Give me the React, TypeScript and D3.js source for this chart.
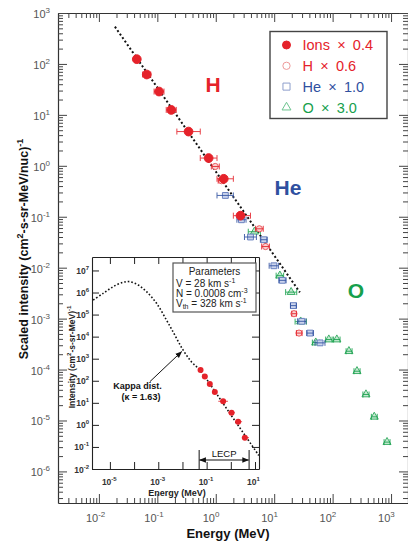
import React, { useEffect, useRef } from 'react';
import * as d3 from 'd3';

const W = 408;
const H = 544;

// main panel: scaled intensities as plotted (energy bins in MeV)
const ionE = [0.0445, 0.066, 0.107, 0.173, 0.342, 0.755, 1.37, 2.65];
const ionELo = [0.041, 0.056, 0.088, 0.142, 0.216, 0.543, 1.05, 2.0];
const ionEHi = [0.048, 0.077, 0.13, 0.211, 0.543, 1.05, 2.0, 3.93];
const ionI = [124, 62, 28.7, 12.5, 4.7, 1.42, 0.556, 0.105];

const hE = [0.98, 1.25, 5.57, 7.11, 21.8, 26.6];
const hELo = [0.84, 1.1, 4.8, 6.1, 20, 24];
const hEHi = [1.15, 1.4, 6.5, 8.3, 24, 30];
const hI = [0.97, 0.51, 0.058, 0.026, 0.00125, 0.00052];

const heE = [1.46, 2.75, 3.93, 6.65, 9.88, 13.8, 21.3, 29.6, 41, 61];
const heELo = [1.05, 2.3, 3.1, 5.8, 8.2, 12, 19, 25, 36, 50];
const heEHi = [2.0, 3.3, 4.96, 7.6, 11.8, 16, 24, 35, 47, 74];
const heI = [0.262, 0.0873, 0.04, 0.0354, 0.0109, 0.00564, 0.0018, 0.000885, 0.00052, 0.000334];

const oE = [4.6, 12.5, 19.5, 28.4, 51.4, 86, 118, 190, 261, 372, 516, 853];
const oELo = [3.6, 10.8, 15.7, 22.8, 45, 76, 104, 170, 232, 330, 460, 760];
const oEHi = [5.8, 14.5, 24.3, 35.5, 60, 98, 134, 215, 295, 420, 580, 960];
const oI = [0.0508, 0.00697, 0.00331, 0.000873, 0.000338, 0.000388, 0.000388, 0.000229, 9.27e-5, 3.24e-5, 1.18e-5, 3.76e-6];

// dotted power-law guide in main panel
const fitE = [0.0188, 27.5];
const fitI = [539, 0.00328];

// inset: kappa distribution + unscaled ions
const kappaE = [2.04e-6, 5.28e-6, 1.37e-5, 3.55e-5, 6.7e-5, 1.48e-4, 3.29e-4, 8.5e-4, 2.2e-3, 4.85e-3, 0.0107, 0.0238, 0.0524, 0.91, 14.4];
const kappaI = [4.56e5, 9.2e5, 1.84e6, 2.91e6, 3.1e6, 2.19e6, 1.09e6, 3.23e5, 5.6e4, 1.17e4, 2430, 716, 300, 3.33, 0.041];
const insetIonE = [0.056, 0.084, 0.135, 0.218, 0.48, 1.07, 2.0, 3.8];
const ionScale = 0.4;
const lecpRange = [0.049, 5.7];

const legendNames = ['Ions', 'H', 'He', 'O'];
const legendFactors = ['0.4', '0.6', '1.0', '3.0'];

const FONT = '"Liberation Sans", Arial, Helvetica, sans-serif';
const RED = '#e5222a';
const BLUE = '#2f50a0';
const GREEN = '#16a04c';

const logMajors = (lo: number, hi: number) =>
  d3.range(Math.ceil(Math.log10(lo) - 1e-9), Math.floor(Math.log10(hi) + 1e-9) + 1);

const logMinors = (lo: number, hi: number) => {
  const out: number[] = [];
  for (let k = Math.floor(Math.log10(lo)); k <= Math.ceil(Math.log10(hi)); k++) {
    for (let m = 2; m <= 9; m++) {
      const v = m * 10 ** k;
      if (v >= lo && v <= hi) out.push(v);
    }
  }
  return out;
};

const App = () => {
  const svgRef = useRef<SVGSVGElement>(null);

  useEffect(() => {
    const svg = d3.select(svgRef.current).attr('width', W).attr('height', H).style('font-family', FONT);
    svg.selectAll('*').remove();

    const defs = svg.append('defs');
    defs.append('marker').attr('id', 'ah').attr('viewBox', '0 0 10 10')
      .attr('refX', 9).attr('refY', 5).attr('markerWidth', 7).attr('markerHeight', 7)
      .attr('orient', 'auto-start-reverse')
      .append('path').attr('d', 'M0,1L10,5L0,9z').attr('fill', '#111');
    defs.append('clipPath').attr('id', 'insetclip')
      .append('rect').attr('x', 92).attr('y', 257).attr('width', 167).attr('height', 212);

    // ---------- main panel ----------
    const x = d3.scaleLog().domain([10 ** -2.7, 10 ** 3.29]).range([58, 408]);
    const y = d3.scaleLog().domain([10 ** -6.62, 1e3]).range([503, 13]);
    const [x0, x1] = x.range();
    const [y0, y1] = y.range();

    const xMaj = logMajors(x.domain()[0], x.domain()[1]);
    const yMaj = logMajors(y.domain()[0], y.domain()[1]);

    const addAxis = (gen: any, tr: string, keepDomain: boolean) => {
      const g = svg.append('g').attr('transform', tr).call(gen);
      g.selectAll('.tick text').remove();
      g.selectAll('.tick line').attr('stroke', '#444');
      if (keepDomain) g.select('.domain').attr('stroke', '#333').attr('stroke-width', 1.2);
      else g.select('.domain').remove();
    };
    const maj = (a: any, vals: number[]) => a.tickValues(vals).tickSize(-9).tickSizeOuter(0).tickFormat(() => '');
    const mnr = (a: any, vals: number[]) => a.tickValues(vals).tickSize(-5).tickSizeOuter(0).tickFormat(() => '');
    const xMajV = xMaj.map(k => 10 ** k);
    const yMajV = yMaj.map(k => 10 ** k);
    const xMin = logMinors(x.domain()[0], x.domain()[1]);
    const yMin = logMinors(y.domain()[0], y.domain()[1]);

    addAxis(maj(d3.axisBottom(x), xMajV), `translate(0,${y0})`, true);
    addAxis(mnr(d3.axisBottom(x), xMin), `translate(0,${y0})`, false);
    addAxis(maj(d3.axisTop(x), xMajV), `translate(0,${y1})`, true);
    addAxis(mnr(d3.axisTop(x), xMin), `translate(0,${y1})`, false);
    addAxis(maj(d3.axisLeft(y), yMajV), `translate(${x0},0)`, true);
    addAxis(mnr(d3.axisLeft(y), yMin), `translate(${x0},0)`, false);
    addAxis(maj(d3.axisRight(y), yMajV), `translate(${x1},0)`, true);
    addAxis(mnr(d3.axisRight(y), yMin), `translate(${x1},0)`, false);

    xMaj.forEach(k => {
      const t = svg.append('text').attr('x', x(10 ** k) - 13).attr('y', 521.5)
        .attr('font-size', 11).attr('fill', '#555');
      t.append('tspan').text('10');
      t.append('tspan').attr('dy', -5).attr('font-size', 8).text(String(k));
    });
    yMaj.forEach(k => {
      const t = svg.append('text').attr('x', 50).attr('y', y(10 ** k) + 5)
        .attr('font-size', 11).attr('fill', '#555').attr('text-anchor', 'end');
      t.append('tspan').text('10');
      t.append('tspan').attr('dy', -5).attr('font-size', 8).text(String(k));
    });

    svg.append('text').attr('x', (x0 + 398) / 2).attr('y', 538).attr('text-anchor', 'middle')
      .attr('font-size', 13).attr('font-weight', 'bold').attr('fill', '#111').text('Energy (MeV)');
    const yt = svg.append('text').attr('transform', 'translate(28,249) rotate(-90)').attr('text-anchor', 'middle')
      .attr('font-size', 12.5).attr('font-weight', 'bold').attr('fill', '#111');
    yt.append('tspan').text('Scaled intensity (cm');
    yt.append('tspan').attr('dy', -5).attr('font-size', 9).text('2');
    yt.append('tspan').attr('dy', 5).text('-s-sr-MeV/nuc)');
    yt.append('tspan').attr('dy', -5).attr('font-size', 9).text('-1');

    // dotted guide
    const fitLine = d3.line<number>().x((d, i) => x(fitE[i])).y(d => y(d));
    svg.append('path').attr('d', fitLine(fitI)).attr('fill', 'none')
      .attr('stroke', '#111').attr('stroke-width', 2).attr('stroke-dasharray', '2,2.3');

    const drawSeries = (E: number[], lo: number[], hi: number[], I: number[], color: string,
      fill: string, stroke: string, sym: any, size: number, barsOnTop: boolean) => {
      const rows = E.map((e, i) => ({ e, lo: lo[i], hi: hi[i], v: I[i] }));
      const g = svg.append('g');
      const bars = () => {
        const b = g.append('g').attr('stroke', color).attr('stroke-width', 1).attr('opacity', 0.85);
        b.selectAll('line.h').data(rows).join('line')
          .attr('x1', d => x(d.lo)).attr('x2', d => x(d.hi)).attr('y1', d => y(d.v)).attr('y2', d => y(d.v));
        b.selectAll('line.l').data(rows).join('line')
          .attr('x1', d => x(d.lo)).attr('x2', d => x(d.lo)).attr('y1', d => y(d.v) - 3).attr('y2', d => y(d.v) + 3);
        b.selectAll('line.r').data(rows).join('line')
          .attr('x1', d => x(d.hi)).attr('x2', d => x(d.hi)).attr('y1', d => y(d.v) - 3).attr('y2', d => y(d.v) + 3);
      };
      if (!barsOnTop) bars();
      g.selectAll('path.m').data(rows).join('path')
        .attr('transform', d => `translate(${x(d.e)},${y(d.v)})`)
        .attr('d', d3.symbol(sym, size)())
        .attr('fill', fill).attr('stroke', stroke).attr('stroke-width', 1);
      if (barsOnTop) bars();
    };

    drawSeries(oE, oELo, oEHi, oI, GREEN, '#c6e9d2', '#3fb06a', d3.symbolTriangle, 28, true);
    drawSeries(heE, heELo, heEHi, heI, BLUE, '#cbd4ec', '#6a82c0', d3.symbolSquare, 34, true);
    drawSeries(hE, hELo, hEHi, hI, RED, '#f9d2d2', '#ec5a5f', d3.symbolCircle, 30, true);
    drawSeries(ionE, ionELo, ionEHi, ionI, RED, RED, RED, d3.symbolCircle, 60, false);

    // species labels
    svg.append('text').attr('x', 213).attr('y', 91.5).attr('text-anchor', 'middle')
      .attr('font-size', 21).attr('font-weight', 'bold').attr('fill', RED).text('H');
    svg.append('text').attr('x', 288).attr('y', 194.5).attr('text-anchor', 'middle')
      .attr('font-size', 21).attr('font-weight', 'bold').attr('fill', BLUE).text('He');
    svg.append('text').attr('x', 356).attr('y', 297.5).attr('text-anchor', 'middle')
      .attr('font-size', 21).attr('font-weight', 'bold').attr('fill', GREEN).text('O');

    // legend
    const lg = svg.append('g');
    lg.append('rect').attr('x', 270).attr('y', 31.5).attr('width', 117).attr('height', 87)
      .attr('fill', 'white').attr('stroke', '#444').attr('stroke-width', 1.4);
    const legColors = [RED, RED, BLUE, GREEN];
    const legSyms = [
      { s: d3.symbolCircle, size: 50, fill: RED, stroke: RED },
      { s: d3.symbolCircle, size: 42, fill: 'none', stroke: '#ee9a9a' },
      { s: d3.symbolSquare, size: 50, fill: 'none', stroke: '#8e9fcc' },
      { s: d3.symbolTriangle, size: 34, fill: 'none', stroke: '#6cc48f' },
    ];
    legendNames.forEach((n, i) => {
      const cy = 45 + i * 20.8;
      lg.append('path').attr('transform', `translate(286.5,${cy})`)
        .attr('d', d3.symbol(legSyms[i].s, legSyms[i].size)())
        .attr('fill', legSyms[i].fill).attr('stroke', legSyms[i].stroke).attr('stroke-width', 1);
      lg.append('text').attr('x', 302.5).attr('y', cy + 5.2).attr('font-size', 14.5)
        .attr('fill', legColors[i]).text(`${n}\u2002\u00d7\u2002${legendFactors[i]}`);
    });

    // ---------- inset ----------
    const ix = d3.scaleLog().domain([10 ** -5.74, 10 ** 1.165]).range([92, 259]);
    const iy = d3.scaleLog().domain([1e-2, 10 ** 7.61]).range([469, 257]);
    const [ix0, ix1] = ix.range();
    const [iy0, iy1] = iy.range();

    svg.append('rect').attr('x', ix0).attr('y', iy1).attr('width', ix1 - ix0).attr('height', iy0 - iy1)
      .attr('fill', 'white');
    const ixMaj = logMajors(ix.domain()[0], ix.domain()[1]);
    const iyMaj = logMajors(iy.domain()[0], iy.domain()[1]);
    const iaxis = (gen: any, tr: string) => {
      const g = svg.append('g').attr('transform', tr)
        .call(gen.tickSize(-7).tickSizeOuter(0).tickFormat(() => ''));
      g.selectAll('.tick text').remove();
      g.selectAll('.tick line').attr('stroke', '#222');
      g.select('.domain').attr('stroke', '#222').attr('stroke-width', 1.1);
    };
    iaxis(d3.axisBottom(ix).tickValues(ixMaj.map(k => 10 ** k)), `translate(0,${iy0})`);
    iaxis(d3.axisTop(ix).tickValues(ixMaj.map(k => 10 ** k)), `translate(0,${iy1})`);
    iaxis(d3.axisLeft(iy).tickValues(iyMaj.map(k => 10 ** k)), `translate(${ix0},0)`);
    iaxis(d3.axisRight(iy).tickValues(iyMaj.map(k => 10 ** k)), `translate(${ix1},0)`);

    iyMaj.forEach(k => {
      const t = svg.append('text').attr('x', 89).attr('y', iy(10 ** k) + 3.5)
        .attr('font-size', 8.5).attr('font-weight', 'bold').attr('fill', '#333').attr('text-anchor', 'end');
      t.append('tspan').text('10');
      t.append('tspan').attr('dy', -4).attr('font-size', 6).text(String(k));
    });
    ixMaj.filter(k => Math.abs(k) % 2 === 1).forEach(k => {
      const t = svg.append('text').attr('x', ix(10 ** k) - 8).attr('y', 485)
        .attr('font-size', 8.5).attr('font-weight', 'bold').attr('fill', '#333');
      t.append('tspan').text('10');
      t.append('tspan').attr('dy', -4).attr('font-size', 6).text(String(k));
    });
    svg.append('text').attr('x', 177).attr('y', 496).attr('text-anchor', 'middle')
      .attr('font-size', 9).attr('font-weight', 'bold').attr('fill', '#222').text('Energy (MeV)');
    const iyt = svg.append('text').attr('transform', 'translate(75,357) rotate(-90)').attr('text-anchor', 'middle')
      .attr('font-size', 8.5).attr('font-weight', 'bold').attr('fill', '#222');
    iyt.append('tspan').text('Intensity (cm');
    iyt.append('tspan').attr('dy', -4).attr('font-size', 6).text('2');
    iyt.append('tspan').attr('dy', 4).text('-s-sr-MeV)');
    iyt.append('tspan').attr('dy', -4).attr('font-size', 6).text('-1');

    // kappa curve
    const kappaLine = d3.line<number>().x((d, i) => ix(kappaE[i])).y(d => iy(d)).curve(d3.curveCatmullRom);
    svg.append('path').attr('clip-path', 'url(#insetclip)').attr('d', kappaLine(kappaI))
      .attr('fill', 'none').attr('stroke', '#111').attr('stroke-width', 1.6).attr('stroke-dasharray', '1.6,2');

    // unscaled ions in inset
    const insetRows = insetIonE.map((e, i) => ({
      e, lo: e * ionELo[i] / ionE[i], hi: e * ionEHi[i] / ionE[i], v: ionI[i] / ionScale,
    }));
    const ig = svg.append('g');
    ig.selectAll('line').data(insetRows).join('line')
      .attr('x1', d => ix(d.lo)).attr('x2', d => ix(d.hi)).attr('y1', d => iy(d.v)).attr('y2', d => iy(d.v))
      .attr('stroke', RED).attr('stroke-width', 1).attr('opacity', 0.8);
    ig.selectAll('circle').data(insetRows).join('circle')
      .attr('cx', d => ix(d.e)).attr('cy', d => iy(d.v)).attr('r', 3).attr('fill', RED);

    // kappa annotation
    svg.append('text').attr('x', 137.5).attr('y', 388.5).attr('text-anchor', 'middle')
      .attr('font-size', 9).attr('font-weight', 'bold').attr('fill', '#111').text('Kappa dist.');
    svg.append('text').attr('x', 141).attr('y', 399.5).attr('text-anchor', 'middle')
      .attr('font-size', 9).attr('font-weight', 'bold').attr('fill', '#111').text('(\u03ba = 1.63)');
    svg.append('line').attr('x1', ix(4.5e-4)).attr('y1', iy(91)).attr('x2', ix(0.0092)).attr('y2', iy(2090))
      .attr('stroke', '#111').attr('stroke-width', 1).attr('marker-end', 'url(#ah)');

    // LECP range
    const ly = 460;
    [0, 1].forEach(i => {
      svg.append('line').attr('x1', ix(lecpRange[i])).attr('x2', ix(lecpRange[i]))
        .attr('y1', 450).attr('y2', iy0).attr('stroke', '#111').attr('stroke-width', 1);
    });
    svg.append('line').attr('x1', ix(lecpRange[0]) + 0.5).attr('x2', ix(lecpRange[1]) - 0.5)
      .attr('y1', ly).attr('y2', ly).attr('stroke', '#111').attr('stroke-width', 1)
      .attr('marker-start', 'url(#ah)').attr('marker-end', 'url(#ah)');
    svg.append('text').attr('x', (ix(lecpRange[0]) + ix(lecpRange[1])) / 2).attr('y', 456.5)
      .attr('text-anchor', 'middle').attr('font-size', 9.5).attr('fill', '#111').text('LECP');

    // parameters box
    const pg = svg.append('g').attr('font-size', 10).attr('fill', '#222');
    pg.append('rect').attr('x', 173).attr('y', 263).attr('width', 83).attr('height', 49)
      .attr('fill', 'white').attr('stroke', '#555').attr('stroke-width', 1.2);
    pg.append('text').attr('x', 214.5).attr('y', 275).attr('text-anchor', 'middle').text('Parameters');
    const p1 = pg.append('text').attr('x', 176).attr('y', 286.5);
    p1.append('tspan').text('V = 28 km s');
    p1.append('tspan').attr('dy', -4).attr('font-size', 7).text('-1');
    const p2 = pg.append('text').attr('x', 176).attr('y', 296.5);
    p2.append('tspan').text('N = 0.0008 cm');
    p2.append('tspan').attr('dy', -4).attr('font-size', 7).text('-3');
    const p3 = pg.append('text').attr('x', 176).attr('y', 306.5);
    p3.append('tspan').text('V');
    p3.append('tspan').attr('dy', 2).attr('font-size', 7).text('th');
    p3.append('tspan').attr('dy', -2).text(' = 328 km s');
    p3.append('tspan').attr('dy', -4).attr('font-size', 7).text('-1');
  }, []);

  return <svg ref={svgRef} style={{ position: 'absolute', left: 0, top: 0 }}></svg>;
};

export default App;
